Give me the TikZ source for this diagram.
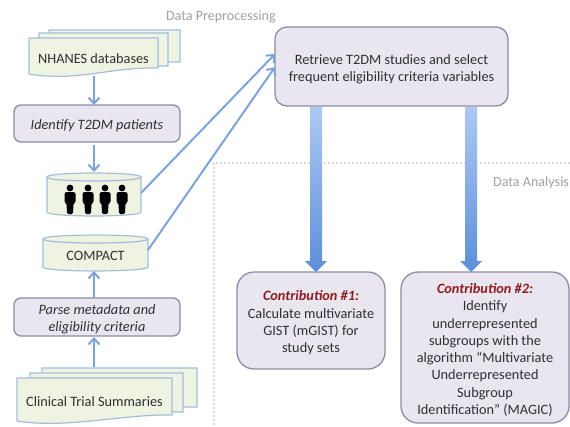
\documentclass[tikz,border=0pt]{standalone}
\usepackage{fontspec}
\setmainfont{Carlito}
\usetikzlibrary{calc,arrows.meta}
\definecolor{boxfill}{HTML}{E9E6F0}
\definecolor{boxline}{HTML}{8C8CA6}
\definecolor{docfill}{HTML}{EEF3E2}
\definecolor{docline}{HTML}{A3BEDB}
\definecolor{arrowblue}{HTML}{7FA3D8}
\definecolor{txt}{HTML}{303030}
\definecolor{contrib}{HTML}{8E1B1E}
\definecolor{graytxt}{HTML}{A0A0A0}
\definecolor{dotline}{HTML}{DADADA}
\definecolor{arrowtop}{HTML}{ADC8F3}
\definecolor{arrowbot}{HTML}{5C8FD8}
\tikzset{
  x=1pt,y=-1pt,
  every node/.style={font=\fontsize{14.3}{17.3}\selectfont,text=txt,align=center,inner sep=0pt,outer sep=0pt},
  every label/.style={yshift=-2.5pt},
  procbox/.style={draw=boxline,line width=1.3pt,fill=boxfill,rounded corners=7pt},
  bigbox/.style={draw=boxline,line width=1.3pt,fill=boxfill,rounded corners=17pt},
  itext/.style={font=\fontsize{14.3}{16.5}\selectfont\itshape},
  docpart/.style={draw=docline,line width=1.2pt,fill=docfill},
  cylpart/.style={draw=docline,line width=1.2pt,fill=docfill},
  thin arrow/.style={draw=arrowblue,line width=2pt,-{Straight Barb[length=6pt,width=11pt,line width=2pt]}},
  person/.style={fill=black,draw=none},
  note/.style={font=\fontsize{14.1}{16}\selectfont,text=graytxt},
  divider/.style={draw=dotline,line width=1.2pt,dash pattern=on 2pt off 2pt},
  big arrow/.style={draw=none,top color=arrowtop,bottom color=arrowbot},
}
\newcommand{\docsheet}[4]{%
  \path[docpart] (#1,#2) -- (#3,#2) -- (#3,#4-10) .. controls (#3-50,#4-11) and (#1+50,#4+4) .. (#1,#4-4) -- cycle;}
\newcommand{\cylshape}[4]{%
  \path[cylpart] (#1,#2) .. controls (#1,#2-5.3) and (#3,#2-5.3) .. (#3,#2) -- (#3,#4-4) .. controls (#3,#4+1.3) and (#1,#4+1.3) .. (#1,#4-4) -- cycle;
  \path[cylpart,fill=none] (#1,#2) .. controls (#1,#2+5.3) and (#3,#2+5.3) .. (#3,#2);}
\newcommand{\personicon}[1]{%
  \path[person] (#1,188) circle[radius=3.4];
  \path[person,rounded corners=1.5pt] (#1-5.5,192) -- (#1+5.5,192) -- (#1+5.5,203) -- (#1+3.5,203) -- (#1+3,214) -- (#1-3,214) -- (#1-3.5,203) -- (#1-5.5,203) -- cycle;}
\begin{document}
\begin{tikzpicture}
\useasboundingbox (0,0) rectangle (570,426);
% dividers
\draw[divider] (570,163) -- (214,163) -- (214,426);
\node[note,anchor=west] (prep) at (166,17) {Data Preprocessing};
\node[note,anchor=east] (anal) at (569,183) {Data Analysis};
% NHANES stack
\docsheet{49}{30}{180}{72}
\docsheet{39}{33}{168}{76}
\docsheet{29}{38}{158}{78}
\node[minimum width=129pt,minimum height=39pt] (nhanes) at (93.5,59) {NHANES databases};
% identify
\node[procbox,minimum width=166pt,minimum height=37pt,label={[itext]center:{Identify T2DM patients}}] (identify) at (97,123.5) {};
% people cylinder
\cylshape{47}{177}{141}{216}
\node[minimum width=94pt,minimum height=43pt] (people) at (94,194) {};
\personicon{70}\personicon{88}\personicon{105}\personicon{122}
% compact
\cylshape{43}{239}{148}{271}
\node[minimum width=105pt,minimum height=36pt] (compact) at (95.5,255.5) {COMPACT};
% parse
\node[procbox,minimum width=166pt,minimum height=38pt,label={[itext]center:{Parse metadata and\\eligibility criteria}}] (parse) at (97,317) {};
% clinical stack
\docsheet{42}{368}{197}{417}
\docsheet{30}{373}{183}{422}
\docsheet{17}{378}{172}{425}
\node[minimum width=155pt,minimum height=45pt] (clinical) at (94.5,402) {Clinical Trial Summaries};
% retrieve
\node[procbox,rounded corners=12pt,minimum width=233pt,minimum height=79pt,label={center:{Retrieve T2DM studies and select\\frequent eligibility criteria variables}}] (retrieve) at (391.5,66.5) {};
% contributions
\node[bigbox,minimum width=148pt,minimum height=97pt,label={center:{{\color{contrib}\bfseries\itshape Contribution \#1:}\\Calculate multivariate\\GIST (mGIST) for\\study sets}}] (c1) at (311,320.5) {};
\node[bigbox,minimum width=168pt,minimum height=151pt,label={center:{{\color{contrib}\bfseries\itshape Contribution \#2:}\\Identify\\underrepresented\\subgroups with the\\algorithm “Multivariate\\Underrepresented\\Subgroup\\Identification” (MAGIC)}}] (c2) at (485,347.5) {};
% thin arrows
\coordinate (pa) at (141,193);
\coordinate (ca) at (148,250);
\coordinate (ra) at (275,54);
\coordinate (rb) at (275,67);
\coordinate (n1) at (94,76);
\coordinate (n2) at (94,105);
\coordinate (n3) at (94,145);
\coordinate (n4) at (94,172);
\coordinate (n5) at (94,298);
\coordinate (n6) at (94,271);
\coordinate (n7) at (94,367);
\coordinate (n8) at (94,337);
\draw[thin arrow] (n1) -- (n2);
\draw[thin arrow] (n3) -- (n4);
\draw[thin arrow] (n5) -- (n6);
\draw[thin arrow] (n7) -- (n8);
\draw[thin arrow] (pa) -- (ra);
\draw[thin arrow] (ca) -- (rb);
% big arrows
\coordinate (a1t) at (316,106);
\coordinate (a1b) at (316,272);
\coordinate (a2t) at (471,106);
\coordinate (a2b) at (471,272);
\path[big arrow] ($(a1t)+(-6,1)$) -- ($(a1t)+(6,1)$) -- ($(a1b)+(6,-11)$) -- ($(a1b)+(11,-11)$) -- (a1b) -- ($(a1b)+(-11,-11)$) -- ($(a1b)+(-6,-11)$) -- cycle;
\path[big arrow] ($(a2t)+(-6,1)$) -- ($(a2t)+(6,1)$) -- ($(a2b)+(6,-11)$) -- ($(a2b)+(11,-11)$) -- (a2b) -- ($(a2b)+(-11,-11)$) -- ($(a2b)+(-6,-11)$) -- cycle;
\end{tikzpicture}
\end{document}
